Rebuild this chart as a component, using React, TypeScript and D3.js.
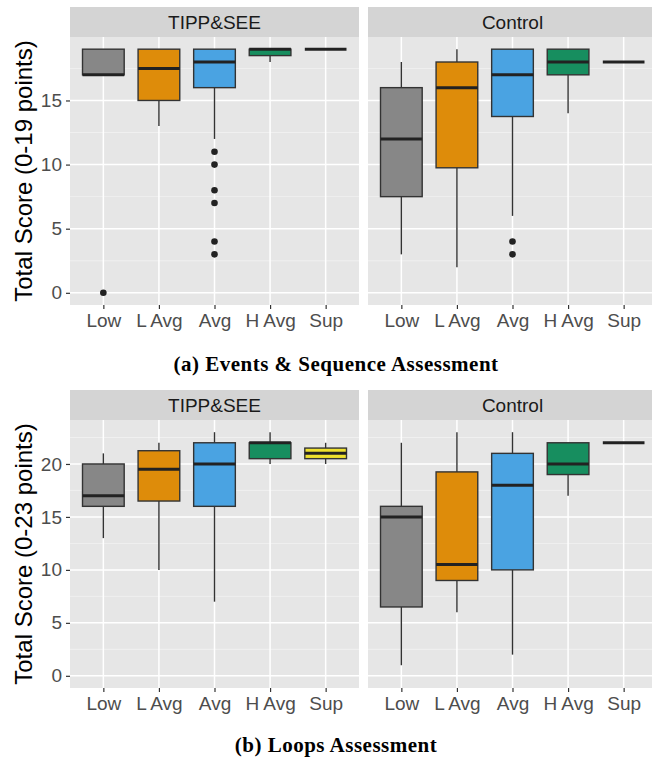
import React, { useRef, useEffect } from "react";
import * as d3 from "d3";

// categories and facets
const categories = ["Low", "L Avg", "Avg", "H Avg", "Sup"];
const groups = ["TIPP&SEE", "Control"];
const fills = ["#878787", "#DE8C0A", "#4AA3E2", "#178E5F", "#EEE02E"];

// (a) Events & Sequence
const eventsTippLo = [17, 13, 12, 18, 19];
const eventsTippQ1 = [17, 15, 16, 18.5, 19];
const eventsTippMed = [17, 17.5, 18, 19, 19];
const eventsTippQ3 = [19, 19, 19, 19, 19];
const eventsTippHi = [19, 19, 19, 19, 19];
const eventsTippOut = [[0], [], [11, 10, 8, 7, 4, 3], [], []];

const eventsCtrlLo = [3, 2, 6, 14, 18];
const eventsCtrlQ1 = [7.5, 9.75, 13.75, 17, 18];
const eventsCtrlMed = [12, 16, 17, 18, 18];
const eventsCtrlQ3 = [16, 18, 19, 19, 18];
const eventsCtrlHi = [18, 19, 19, 19, 18];
const eventsCtrlOut = [[], [], [4, 3], [], []];

// (b) Loops
const loopsTippLo = [13, 10, 7, 20, 20];
const loopsTippQ1 = [16, 16.5, 16, 20.5, 20.5];
const loopsTippMed = [17, 19.5, 20, 22, 21];
const loopsTippQ3 = [20, 21.25, 22, 22, 21.5];
const loopsTippHi = [21, 22, 23, 23, 22];
const loopsTippOut = [[], [], [], [], []];

const loopsCtrlLo = [1, 6, 2, 17, 22];
const loopsCtrlQ1 = [6.5, 9, 10, 19, 22];
const loopsCtrlMed = [15, 10.5, 18, 20, 22];
const loopsCtrlQ3 = [16, 19.25, 21, 22, 22];
const loopsCtrlHi = [22, 23, 23, 22, 22];
const loopsCtrlOut = [[], [], [], [], []];

const eventsTicks = [0, 5, 10, 15];
const loopsTicks = [0, 5, 10, 15, 20];

const makeBoxes = (lo, q1, med, q3, hi, out) =>
  categories.map((c, i) => ({ cat: c, i, lo: lo[i], q1: q1[i], med: med[i], q3: q3[i], hi: hi[i], out: out[i] }));

const charts = [
  {
    max: 19, ticks: eventsTicks, title: "Total Score (0-19 points)",
    caption: "(a) Events & Sequence Assessment",
    stripTop: 7, top: 37, bottom: 305, captionY: 371,
    panels: [
      makeBoxes(eventsTippLo, eventsTippQ1, eventsTippMed, eventsTippQ3, eventsTippHi, eventsTippOut),
      makeBoxes(eventsCtrlLo, eventsCtrlQ1, eventsCtrlMed, eventsCtrlQ3, eventsCtrlHi, eventsCtrlOut),
    ],
  },
  {
    max: 23, ticks: loopsTicks, title: "Total Score (0-23 points)",
    caption: "(b) Loops Assessment",
    stripTop: 390, top: 420, bottom: 688, captionY: 752,
    panels: [
      makeBoxes(loopsTippLo, loopsTippQ1, loopsTippMed, loopsTippQ3, loopsTippHi, loopsTippOut),
      makeBoxes(loopsCtrlLo, loopsCtrlQ1, loopsCtrlMed, loopsCtrlQ3, loopsCtrlHi, loopsCtrlOut),
    ],
  },
];

const panelX = [[70, 359], [368, 657]];
const sans = "'Liberation Sans', Arial, sans-serif";

export default function App() {
  const svgRef = useRef(null);

  useEffect(() => {
    const svg = d3.select(svgRef.current);
    svg.selectAll("*").remove();
    svg.append("rect").attr("width", 652).attr("height", 761).attr("fill", "#fff");

    charts.forEach((ch) => {
      const pad = ch.max * 0.05;
      const y = d3.scaleLinear().domain([-pad, ch.max + pad]).range([ch.bottom, ch.top]);
      const minors = d3.range(2.5, ch.max + pad, 5);

      ch.panels.forEach((boxes, p) => {
        const [x0, x1] = panelX[p];
        const x = d3.scalePoint().domain(categories).range([x0, x1]).padding(0.6);
        const bw = x.step() * 0.75;
        const g = svg.append("g");

        // strip
        g.append("rect").attr("x", x0).attr("y", ch.stripTop)
          .attr("width", x1 - x0).attr("height", ch.top - ch.stripTop).attr("fill", "#D4D4D4");
        g.append("text").attr("x", (x0 + x1) / 2).attr("y", (ch.stripTop + ch.top) / 2 + 7)
          .attr("text-anchor", "middle").attr("font-family", sans).attr("font-size", 19)
          .attr("fill", "#1A1A1A").text(groups[p]);

        // panel background + grid
        g.append("rect").attr("x", x0).attr("y", ch.top)
          .attr("width", x1 - x0).attr("height", ch.bottom - ch.top).attr("fill", "#E6E6E6");
        g.selectAll(".minor").data(minors).join("line")
          .attr("x1", x0).attr("x2", x1).attr("y1", d => y(d)).attr("y2", d => y(d))
          .attr("stroke", "#F2F2F2").attr("stroke-width", 0.8);
        g.selectAll(".major").data(ch.ticks).join("line")
          .attr("x1", x0).attr("x2", x1).attr("y1", d => y(d)).attr("y2", d => y(d))
          .attr("stroke", "#fff").attr("stroke-width", 1.5);
        g.selectAll(".vgrid").data(categories).join("line")
          .attr("x1", d => x(d)).attr("x2", d => x(d)).attr("y1", ch.top).attr("y2", ch.bottom)
          .attr("stroke", "#fff").attr("stroke-width", 1.5);

        // x axis
        const xAxis = g.append("g").attr("transform", `translate(0,${ch.bottom})`)
          .call(d3.axisBottom(x).tickSize(4).tickPadding(5));
        xAxis.select(".domain").remove();
        xAxis.selectAll("line").attr("stroke", "#333").attr("stroke-width", 1.2);
        xAxis.selectAll("text").attr("font-family", sans).attr("font-size", 19).attr("fill", "#4D4D4D");

        // y axis on the left panel only
        if (p === 0) {
          const yAxis = g.append("g").attr("transform", `translate(${x0},0)`)
            .call(d3.axisLeft(y).tickValues(ch.ticks).tickSize(4).tickPadding(4));
          yAxis.select(".domain").remove();
          yAxis.selectAll("line").attr("stroke", "#333").attr("stroke-width", 1.2);
          yAxis.selectAll("text").attr("font-family", sans).attr("font-size", 19).attr("fill", "#4D4D4D");
        }

        // boxes
        const b = g.selectAll(".box").data(boxes).join("g");
        b.append("line").attr("x1", d => x(d.cat)).attr("x2", d => x(d.cat))
          .attr("y1", d => y(d.hi)).attr("y2", d => y(d.q3)).attr("stroke", "#333").attr("stroke-width", 1.4);
        b.append("line").attr("x1", d => x(d.cat)).attr("x2", d => x(d.cat))
          .attr("y1", d => y(d.q1)).attr("y2", d => y(d.lo)).attr("stroke", "#333").attr("stroke-width", 1.4);
        b.append("rect").attr("x", d => x(d.cat) - bw / 2).attr("width", bw)
          .attr("y", d => y(d.q3)).attr("height", d => y(d.q1) - y(d.q3))
          .attr("fill", d => fills[d.i]).attr("stroke", "#333").attr("stroke-width", 1.4);
        b.append("line").attr("x1", d => x(d.cat) - bw / 2).attr("x2", d => x(d.cat) + bw / 2)
          .attr("y1", d => y(d.med)).attr("y2", d => y(d.med)).attr("stroke", "#222").attr("stroke-width", 3);
        b.selectAll("circle").data(d => d.out.map(v => ({ v, cat: d.cat }))).join("circle")
          .attr("cx", d => x(d.cat)).attr("cy", d => y(d.v)).attr("r", 3.3).attr("fill", "#222");
      });

      // y title
      svg.append("text")
        .attr("transform", `translate(32,${(ch.top + ch.bottom) / 2}) rotate(-90)`)
        .attr("text-anchor", "middle").attr("font-family", sans).attr("font-size", 24)
        .attr("fill", "#000").text(ch.title);

      // caption
      svg.append("text").attr("x", 336).attr("y", ch.captionY)
        .attr("text-anchor", "middle").attr("font-family", "'Liberation Serif', 'Times New Roman', serif")
        .attr("font-weight", "bold").attr("font-size", 21).attr("letter-spacing", 0.5)
        .attr("fill", "#000").text(ch.caption);
    });
  }, []);

  return (
    <div style={{ position: "absolute", left: 0, top: 0 }}>
      <svg ref={svgRef} width={652} height={761} style={{ display: "block" }}></svg>
    </div>
  );
}
